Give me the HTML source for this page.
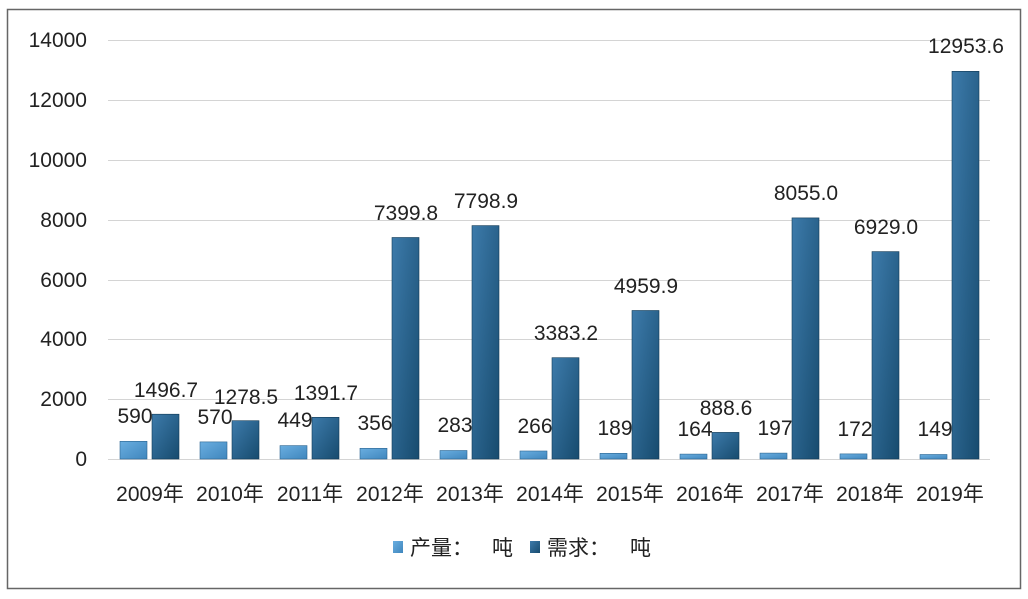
<!DOCTYPE html>
<html><head><meta charset="utf-8"><style>
html,body{margin:0;padding:0;background:#fff;}
svg text{font-family:"Liberation Sans","Noto Sans CJK SC",sans-serif;fill:#222;}
</style></head><body>
<svg width="1028" height="594" viewBox="0 0 1028 594" xmlns="http://www.w3.org/2000/svg">
<defs>
<linearGradient id="lg" x1="0" y1="0" x2="1" y2="1"><stop offset="0" stop-color="#6aaee0"/><stop offset="1" stop-color="#3f86bd"/></linearGradient>
<linearGradient id="dg" x1="0" y1="0" x2="1" y2="1"><stop offset="0" stop-color="#3d7bab"/><stop offset="1" stop-color="#174b6e"/></linearGradient>
</defs>
<rect x="7.5" y="9.5" width="1013" height="579" fill="#fff" stroke="#666" stroke-width="1.5"/>
<g stroke="#d4d4d4" stroke-width="1">
<line x1="108" x2="990" y1="40.5" y2="40.5"/><line x1="108" x2="990" y1="100.5" y2="100.5"/>
<line x1="108" x2="990" y1="160.5" y2="160.5"/><line x1="108" x2="990" y1="220.5" y2="220.5"/>
<line x1="108" x2="990" y1="280.5" y2="280.5"/><line x1="108" x2="990" y1="339.5" y2="339.5"/>
<line x1="108" x2="990" y1="399.5" y2="399.5"/><line x1="108" x2="990" y1="459.5" y2="459.5"/>
</g>
<g font-size="21" text-anchor="end">
<text x="87" y="47">14000</text><text x="87" y="107">12000</text><text x="87" y="167">10000</text>
<text x="87" y="227">8000</text><text x="87" y="287">6000</text><text x="87" y="346">4000</text>
<text x="87" y="406">2000</text><text x="87" y="466">0</text>
</g>
<g fill="url(#lg)" stroke="#2c6590" stroke-width="0.6">
<rect x="120" y="441.3" width="27" height="17.7"/>
<rect x="200" y="441.9" width="27" height="17.1"/>
<rect x="280" y="445.6" width="27" height="13.4"/>
<rect x="360" y="448.3" width="27" height="10.7"/>
<rect x="440" y="450.5" width="27" height="8.5"/>
<rect x="520" y="451.0" width="27" height="8.0"/>
<rect x="600" y="453.3" width="27" height="5.7"/>
<rect x="680" y="454.1" width="27" height="4.9"/>
<rect x="760" y="453.1" width="27" height="5.9"/>
<rect x="840" y="453.9" width="27" height="5.1"/>
<rect x="920" y="454.5" width="27" height="4.5"/>
</g>
<g fill="url(#dg)" stroke="#123a55" stroke-width="0.6">
<rect x="152" y="414.2" width="27" height="44.8"/>
<rect x="232" y="420.7" width="27" height="38.3"/>
<rect x="312" y="417.3" width="27" height="41.7"/>
<rect x="392" y="237.5" width="27" height="221.5"/>
<rect x="472" y="225.6" width="27" height="233.4"/>
<rect x="552" y="357.7" width="27" height="101.3"/>
<rect x="632" y="310.5" width="27" height="148.5"/>
<rect x="712" y="432.4" width="27" height="26.6"/>
<rect x="792" y="217.9" width="27" height="241.1"/>
<rect x="872" y="251.6" width="27" height="207.4"/>
<rect x="952" y="71.3" width="27" height="387.7"/>
</g>
<g font-size="21" text-anchor="middle">
<text x="135" y="423">590</text><text x="215" y="424">570</text><text x="295" y="427">449</text>
<text x="375" y="430">356</text><text x="455" y="432">283</text><text x="535" y="433">266</text>
<text x="615" y="435">189</text><text x="695" y="436">164</text><text x="775" y="435">197</text>
<text x="855" y="436">172</text><text x="935" y="436">149</text>
<text x="166" y="397">1496.7</text><text x="246" y="404">1278.5</text><text x="326" y="400">1391.7</text>
<text x="406" y="220">7399.8</text><text x="486" y="208">7798.9</text><text x="566" y="340">3383.2</text>
<text x="646" y="293">4959.9</text><text x="726" y="415">888.6</text><text x="806" y="200">8055.0</text>
<text x="886" y="234">6929.0</text><text x="966" y="53">12953.6</text>
<text x="150" y="501">2009年</text><text x="230" y="501">2010年</text><text x="310" y="501">2011年</text>
<text x="390" y="501">2012年</text><text x="470" y="501">2013年</text><text x="550" y="501">2014年</text>
<text x="630" y="501">2015年</text><text x="710" y="501">2016年</text><text x="790" y="501">2017年</text>
<text x="870" y="501">2018年</text><text x="950" y="501">2019年</text>
</g>
<rect x="393" y="541" width="10" height="12" fill="url(#lg)"/>
<text x="410" y="555" font-size="21">产量：</text>
<text x="492" y="555" font-size="21">吨</text>
<rect x="530" y="541" width="10" height="12" fill="url(#dg)"/>
<text x="547" y="555" font-size="21">需求：</text>
<text x="630" y="555" font-size="21">吨</text>
</svg>
</body></html>
